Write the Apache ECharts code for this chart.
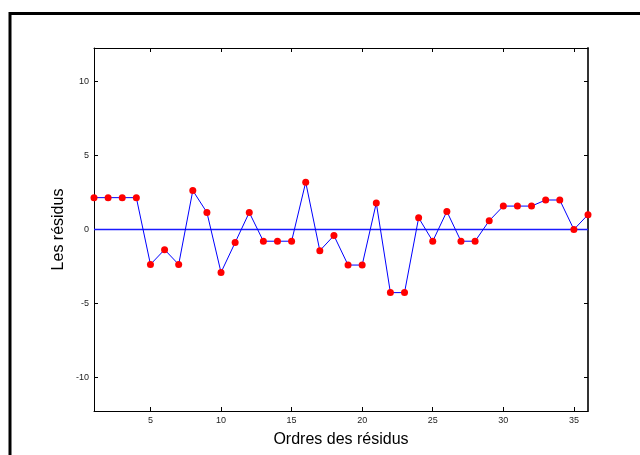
<!DOCTYPE html>
<html>
<head>
<meta charset="utf-8">
<script src="https://cdn.jsdelivr.net/npm/echarts@6/dist/echarts.min.js"></script>
<style>
    html, body { margin: 0; padding: 0; background: #fff; }
    #chart { width: 640px; height: 455px; }
</style>
</head>
<body>
<div id="chart"></div>
<script>
// ordres des résidus et valeurs
let ordres = [];
for (let i = 1; i <= 36; i++) ordres.push(i);
let residus = [
    2.15, 2.15, 2.15, 2.15, -2.36, -1.36, -2.36, 2.63, 1.15, -2.9,
    -0.88, 1.15, -0.79, -0.79, -0.79, 3.19, -1.43, -0.41, -2.4, -2.4,
    1.79, -4.26, -4.26, 0.79, -0.79, 1.22, -0.79, -0.79, 0.59, 1.58,
    1.58, 1.58, 1.99, 1.99, 0, 1.0
];
let ligneZero = [[1, 0], [36, 0]];
let xTicks = [5, 10, 15, 20, 25, 30, 35];
let yTicks = [-10, -5, 0, 5, 10];

let font = 'Arial, "Liberation Sans", sans-serif';
let chart = echarts.init(document.getElementById('chart'));

let option = {
    animation: false,
    backgroundColor: '#fff',
    graphic: [{
        type: 'rect',
        shape: { x: 10, y: 13.5, width: 700, height: 500 },
        style: { fill: 'none', stroke: '#000', lineWidth: 3 },
        silent: true
    }],
    grid: { left: 94, right: 52, top: 48, bottom: 44 },
    xAxis: [{
        type: 'value',
        min: 1, max: 36,
        name: 'Ordres des résidus',
        nameLocation: 'middle',
        nameGap: 21,
        nameMoveOverlap: false,
        nameTextStyle: { fontFamily: font, fontSize: 16, color: '#000' },
        axisLine: { show: true, onZero: false, lineStyle: { color: '#000', width: 1 } },
        splitLine: { show: false },
        axisTick: { show: true, inside: true, length: 4, customValues: xTicks, lineStyle: { color: '#000' } },
        axisLabel: { customValues: xTicks, fontFamily: font, fontSize: 9, color: '#222', margin: 5 }
    }, {
        type: 'value',
        min: 1, max: 36, position: 'top',
        axisLine: { show: true, onZero: false, lineStyle: { color: '#000', width: 1 } },
        splitLine: { show: false },
        axisTick: { show: true, inside: true, length: 4, customValues: xTicks, lineStyle: { color: '#000' } },
        axisLabel: { show: false }
    }],
    yAxis: [{
        type: 'value',
        min: -12.25, max: 12.25,
        name: 'Les résidus',
        nameLocation: 'middle',
        nameRotate: 90,
        nameGap: 27,
        nameMoveOverlap: false,
        nameTextStyle: { fontFamily: font, fontSize: 16, color: '#000' },
        axisLine: { show: true, onZero: false, lineStyle: { color: '#000', width: 1 } },
        splitLine: { show: false },
        axisTick: { show: true, inside: true, length: 4, customValues: yTicks, lineStyle: { color: '#000' } },
        axisLabel: { customValues: yTicks, fontFamily: font, fontSize: 9, color: '#222', margin: 5 }
    }, {
        type: 'value',
        min: -12.25, max: 12.25, position: 'right',
        axisLine: { show: true, onZero: false, lineStyle: { color: '#333', width: 2 } },
        splitLine: { show: false },
        axisTick: { show: true, inside: true, length: 4, customValues: yTicks, lineStyle: { color: '#000' } },
        axisLabel: { show: false }
    }],
    series: [{
        type: 'line',
        data: ligneZero,
        symbol: 'none',
        silent: true,
        lineStyle: { color: '#1a1aff', width: 1.5 },
        z: 4
    }, {
        type: 'line',
        data: ordres.map((x, i) => [x, residus[i]]),
        symbol: 'circle',
        symbolSize: 7,
        lineStyle: { color: '#0000ff', width: 1 },
        itemStyle: { color: '#ff0000' },
        z: 5
    }]
};
chart.setOption(option);
</script>
</body>
</html>
